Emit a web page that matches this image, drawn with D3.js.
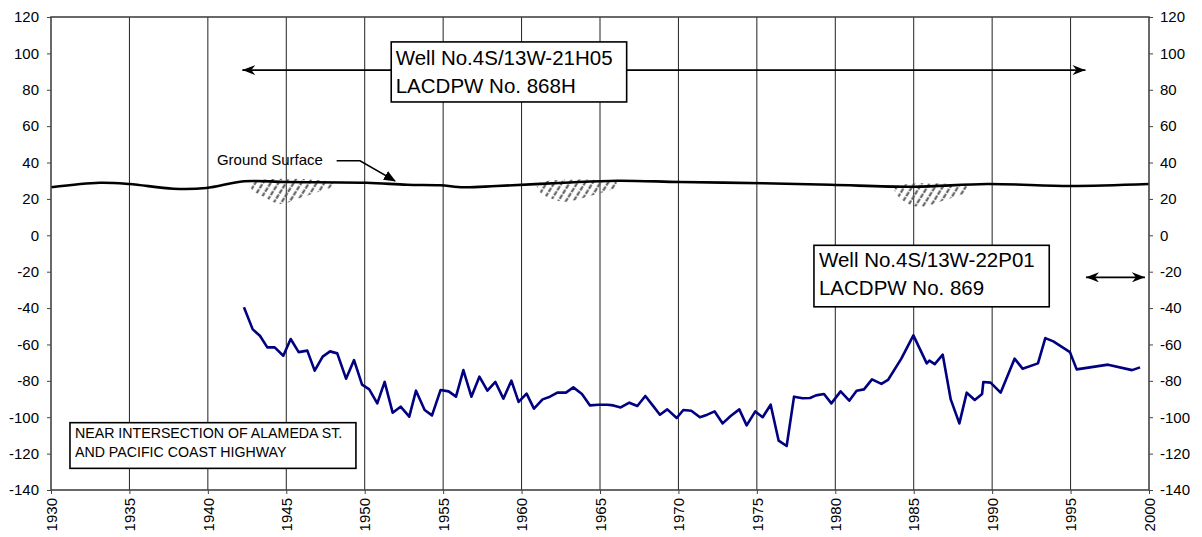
<!DOCTYPE html>
<html><head><meta charset="utf-8">
<script src="https://cdn.jsdelivr.net/npm/d3@7"></script>
<style>
body{margin:0;background:#fff;}
svg{display:block;font-family:"Liberation Sans",Arial,sans-serif;}
</style></head>
<body><svg id="c" width="1202" height="537"></svg>
<script>
// ---- data ----
const yearTicks = [1930,1935,1940,1945,1950,1955,1960,1965,1970,1975,1980,1985,1990,1995,2000];
const levelTicks = [-140,-120,-100,-80,-60,-40,-20,0,20,40,60,80,100,120];

const wellYears = [1942.30,1942.86,1943.32,1943.79,1944.26,1944.81,1945.28,1945.79,1946.34,1946.81,1947.32,1947.79,1948.25,1948.81,1949.32,1949.83,1950.29,1950.80,1951.27,1951.78,1952.29,1952.84,1953.27,1953.82,1954.29,1954.84,1955.35,1955.82,1956.29,1956.80,1957.31,1957.82,1958.33,1958.84,1959.35,1959.81,1960.32,1960.79,1961.34,1961.81,1962.28,1962.83,1963.30,1963.85,1964.36,1964.91,1965.47,1965.85,1966.32,1966.87,1967.38,1967.89,1968.36,1968.82,1969.29,1969.89,1970.31,1970.82,1971.37,1971.84,1972.31,1972.82,1973.33,1973.88,1974.35,1974.90,1975.37,1975.88,1976.39,1976.90,1977.37,1977.92,1978.39,1978.77,1979.28,1979.75,1980.34,1980.89,1981.36,1981.83,1982.34,1982.94,1983.36,1984.21,1984.98,1985.83,1986.00,1986.34,1986.85,1987.36,1987.91,1988.38,1988.89,1989.36,1989.44,1989.90,1990.54,1991.43,1991.94,1992.92,1993.39,1993.90,1994.96,1995.39,1997.39,1998.92,1999.43];
const wellLevels = [-39.6,-51.7,-55.2,-61.6,-61.6,-66.2,-57.0,-64.2,-63.4,-74.4,-66.7,-63.8,-64.9,-78.8,-68.6,-82.1,-84.7,-92.4,-80.6,-97.5,-94.2,-99.7,-85.4,-96.0,-99.0,-85.0,-85.8,-88.7,-74.1,-88.7,-77.7,-85.4,-80.6,-89.8,-79.9,-91.6,-87.0,-95.3,-90.2,-88.7,-86.5,-86.5,-83.6,-87.2,-93.5,-93.1,-93.1,-93.5,-94.6,-92.0,-93.8,-88.3,-93.5,-98.6,-95.7,-100.4,-96.0,-96.4,-100.0,-98.6,-96.8,-103.4,-99.3,-95.7,-104.5,-96.8,-100.0,-93.1,-112.9,-115.8,-88.7,-89.6,-89.4,-88.0,-87.2,-92.4,-85.8,-90.9,-85.4,-84.7,-79.2,-81.7,-79.5,-67.8,-55.0,-70.4,-68.9,-70.8,-65.6,-90.2,-103.4,-86.5,-90.5,-87.2,-80.6,-81.0,-86.5,-67.8,-73.3,-70.4,-56.5,-58.3,-64.2,-73.7,-71.1,-74.1,-72.6];

const groundYears = [1930.0,1933.1,1935.0,1937.8,1939.9,1942.3,1945.0,1950.1,1952.7,1954.8,1956.3,1958.4,1962.7,1966.1,1970.1,1975.4,1979.7,1985.0,1989.7,1995.0,2000.0];
const groundLevels = [26.4,28.9,28.2,25.6,26.0,29.7,29.3,28.9,27.8,27.5,26.4,27.1,28.9,30.0,29.3,28.6,27.8,26.7,28.2,27.1,28.2];

// hatched zones beneath ground surface [year, level]
const hatchZones = [
  [[1942.7,28.8],[1942.88,24.4],[1943.6,21.0],[1944.6,17.2],[1945.87,20.5],[1947.02,23.8],[1947.98,27.1],[1947.98,28.8]],
  [[1961.0,28.2],[1961.17,23.8],[1962.64,18.5],[1964.36,21.6],[1966.15,27.1],[1966.15,28.8]],
  [[1983.8,26.5],[1983.91,22.4],[1985.19,15.7],[1986.99,19.4],[1988.46,24.5],[1988.46,26.5]]
];

const box1Lines = ["Well No.4S/13W-21H05","LACDPW No. 868H"];
const box2Lines = ["Well No.4S/13W-22P01","LACDPW No. 869"];
const box3Lines = ["NEAR INTERSECTION OF ALAMEDA ST.","AND PACIFIC COAST HIGHWAY"];
const groundLabel = "Ground Surface";

// ---- layout ----
const svg = d3.select("#c");
const L=51, R=1149, T=17, B=490;
const x = d3.scaleLinear().domain([1930,2000]).range([L,R]);
const y = d3.scaleLinear().domain([-140,120]).range([B,T]);

const defs = svg.append("defs");
const pat = defs.append("pattern").attr("id","hatch").attr("patternUnits","userSpaceOnUse")
  .attr("width",6.5).attr("height",6).attr("patternTransform","rotate(32)");
pat.append("line").attr("x1",1.5).attr("y1",0).attr("x2",1.5).attr("y2",6)
  .attr("stroke","#555").attr("stroke-width",2).attr("stroke-dasharray","4 1.2");

function mk(id, path, w, h, rx, ry){
  defs.append("marker").attr("id",id).attr("viewBox",`0 0 ${w} ${h}`)
    .attr("refX",rx).attr("refY",ry).attr("markerWidth",w).attr("markerHeight",h)
    .attr("markerUnits","userSpaceOnUse").attr("orient","auto-start-reverse")
    .append("path").attr("d",path).attr("fill","#000");
}
mk("dbl","M13,5 L0,0 L4,5 L0,10 Z",13,10,13,5);
mk("tri","M12,5 L0,0 L0,10 Z",12,10,11,5);

// gridlines
svg.append("g").selectAll("line").data(yearTicks.slice(1,-1)).join("line")
  .attr("x1",d=>x(d)).attr("x2",d=>x(d)).attr("y1",T).attr("y2",B)
  .attr("stroke","#222").attr("stroke-width",1);

// hatch zones
svg.append("g").selectAll("path").data(hatchZones).join("path")
  .attr("d",d=>d3.line().x(p=>x(p[0])).y(p=>y(p[1])).curve(d3.curveCatmullRomClosed)(d))
  .attr("fill","url(#hatch)");

// ground surface
const ground = groundYears.map((g,i)=>[g,groundLevels[i]]);
svg.append("path").attr("d",d3.line().x(d=>x(d[0])).y(d=>y(d[1])).curve(d3.curveCatmullRom)(ground))
  .attr("fill","none").attr("stroke","#000").attr("stroke-width",2.6);

// well line
const well = wellYears.map((w,i)=>[w,wellLevels[i]]);
svg.append("path").attr("d",d3.line().x(d=>x(d[0])).y(d=>y(d[1]))(well))
  .attr("fill","none").attr("stroke","#000080").attr("stroke-width",2.6).attr("stroke-linejoin","round");

// frame
svg.append("rect").attr("x",L).attr("y",T).attr("width",R-L).attr("height",B-T)
  .attr("fill","none").attr("stroke","#444").attr("stroke-width",1.6);

// axes
const fs = "15px";
const fmt = d => String(d);
const ax1 = svg.append("g").attr("transform",`translate(${L},0)`)
  .call(d3.axisLeft(y).tickValues(levelTicks).tickFormat(fmt).tickSize(4).tickPadding(8).tickSizeOuter(0));
const ax2 = svg.append("g").attr("transform",`translate(${R},0)`)
  .call(d3.axisRight(y).tickValues(levelTicks).tickFormat(fmt).tickSize(4).tickPadding(7).tickSizeOuter(0));
const ax3 = svg.append("g").attr("transform",`translate(0,${B})`)
  .call(d3.axisBottom(x).tickValues(yearTicks).tickSize(4).tickFormat(fmt).tickSizeOuter(0));
[ax1,ax2,ax3].forEach(a=>{a.select(".domain").remove();
  a.selectAll("text").attr("font-size",fs).attr("fill","#000").attr("font-family","Liberation Sans, Arial");
  a.selectAll("line").attr("stroke","#444");});
ax3.selectAll("text").attr("transform","rotate(-90)").attr("text-anchor","end")
  .attr("x",-8).attr("y",0).attr("dy","0.35em");

// annotation helper
function box(x0,x1,v0,v1,lines,size,dx,baseOff,lineH){
  svg.append("rect").attr("x",x(x0)).attr("y",y(v0)).attr("width",x(x1)-x(x0)).attr("height",y(v1)-y(v0))
    .attr("fill","#fff").attr("stroke","#000").attr("stroke-width",1.6);
  svg.append("g").selectAll("text").data(lines).join("text")
    .attr("x",x(x0)+dx).attr("y",(d,i)=>y(v0)+baseOff+i*lineH)
    .attr("font-size",size).attr("fill","#000").text(d=>d);
}

// top double arrow
svg.append("line").attr("x1",x(1942.2)).attr("x2",x(1995.95)).attr("y1",y(90.8)).attr("y2",y(90.8))
  .attr("stroke","#000").attr("stroke-width",1.6)
  .attr("marker-start","url(#dbl)").attr("marker-end","url(#dbl)");
box(1951.69,1966.70,106.3,73.3,box1Lines,"20.5px",4.5,23,28);

// right double arrow
svg.append("line").attr("x1",x(1995.98)).attr("x2",x(1999.74)).attr("y1",y(-23.1)).attr("y2",y(-23.1))
  .attr("stroke","#000").attr("stroke-width",1.6)
  .attr("marker-start","url(#dbl)").attr("marker-end","url(#dbl)");
box(1978.64,1993.64,-5.5,-39.3,box2Lines,"20.5px",5,21.5,28.3);

// location box
box(1931.21,1949.44,-103.0,-128.1,box3Lines,"14.2px",5,15.7,18.4);

// ground surface label & leader
svg.append("text").attr("x",x(1940.58)).attr("y",y(38.6)).attr("font-size","15px").attr("fill","#000").text(groundLabel);
const leader = [[1948.21,41.0],[1949.70,41.0],[1951.93,29.9]];
svg.append("path").attr("d",d3.line().x(d=>x(d[0])).y(d=>y(d[1]))(leader))
  .attr("fill","none").attr("stroke","#000").attr("stroke-width",1.6).attr("marker-end","url(#tri)");
</script></body></html>
